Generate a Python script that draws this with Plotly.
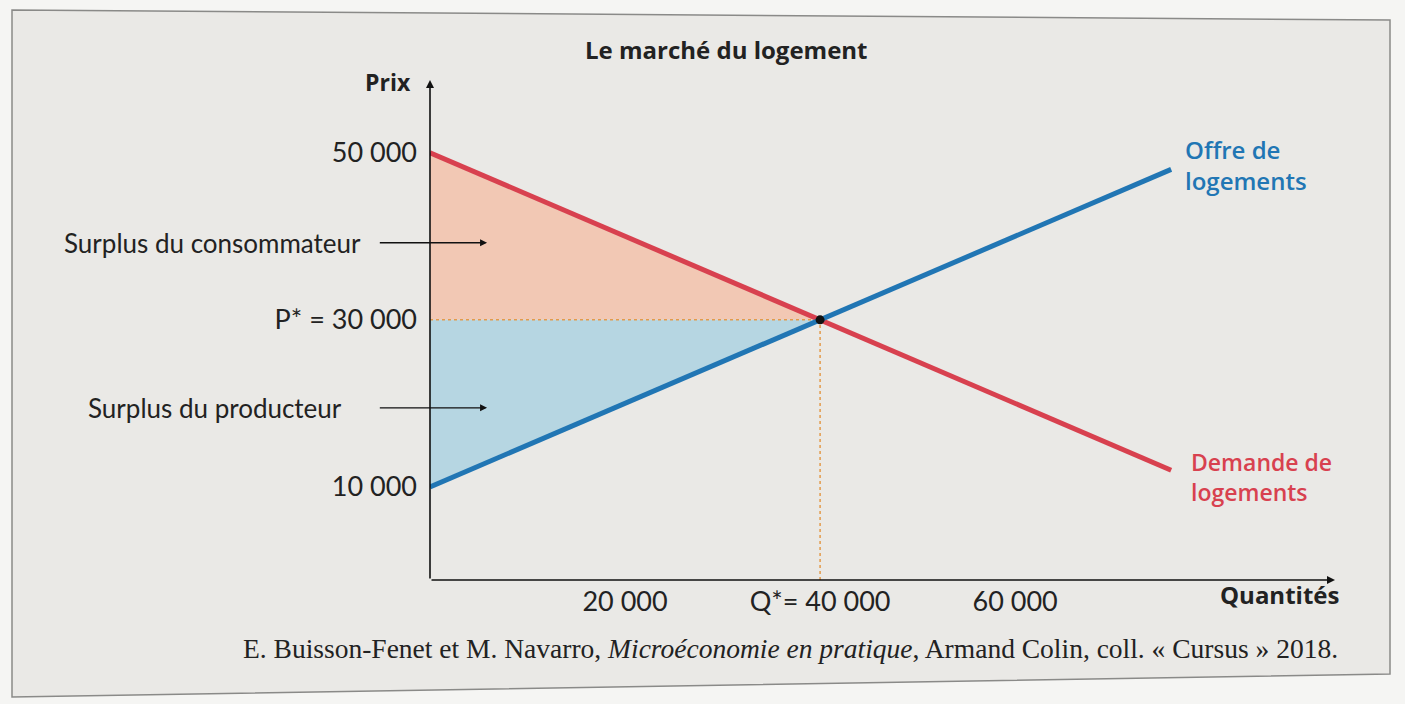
import plotly.graph_objects as go

# ---- data ----
quantities = [0, 76000]
supply = [10000, 48000]
demand = [50000, 12000]
q_star = 40000
p_star = 30000
p_max = 50000
p_min = 10000
x_tick_vals = [20000, 40000, 60000]
x_tick_text = ["20 000", "Q*= 40 000", "60 000"]
y_tick_vals = [10000, 30000, 50000]
y_tick_text = ["10 000", "P* = 30 000", "50 000"]

W, H = 1405, 704
ML, MR, MT, MB = 430, 70, 80, 124
XR = [0, 92800]
YR = [-1140, 58700]

def px(xp):
    return (xp - ML) / (W - ML - MR)

def py(yp):
    return (H - MB - yp) / (H - MT - MB)

SANS = "Lato"
BOLD = "Open Sans"
BLUE = "#2176b4"
RED = "#d8414f"

fig = go.Figure()

# consumer surplus
fig.add_trace(go.Scatter(x=[0, q_star, 0, 0], y=[p_max, p_star, p_star, p_max],
                         fill="toself", fillcolor="#f2c8b4", line=dict(width=0),
                         mode="lines", hoverinfo="skip", showlegend=False))
# producer surplus
fig.add_trace(go.Scatter(x=[0, q_star, 0, 0], y=[p_star, p_star, p_min, p_star],
                         fill="toself", fillcolor="#b6d6e2", line=dict(width=0),
                         mode="lines", hoverinfo="skip", showlegend=False))
# dotted guides
fig.add_trace(go.Scatter(x=[0, q_star], y=[p_star, p_star], mode="lines",
                         line=dict(color="#e39a4a", width=1.5, dash="dot"),
                         hoverinfo="skip", showlegend=False))
fig.add_trace(go.Scatter(x=[q_star, q_star], y=[YR[0], p_star], mode="lines",
                         line=dict(color="#e39a4a", width=1.5, dash="dot"),
                         hoverinfo="skip", showlegend=False))
# curves
fig.add_trace(go.Scatter(x=quantities, y=demand, mode="lines",
                         line=dict(color=RED, width=5), name="Demande de logements",
                         showlegend=False))
fig.add_trace(go.Scatter(x=quantities, y=supply, mode="lines",
                         line=dict(color=BLUE, width=5), name="Offre de logements",
                         showlegend=False))
fig.add_trace(go.Scatter(x=[q_star], y=[p_star], mode="markers",
                         marker=dict(color="#111", size=9), showlegend=False))

ann = []
# axes with arrows
ann.append(dict(x=XR[1], y=YR[0], ax=0, ay=YR[0], xref="x", yref="y", axref="x", ayref="y",
                text="", showarrow=True, arrowhead=2, arrowsize=1, arrowwidth=1.6,
                arrowcolor="#111"))
ann.append(dict(x=0, y=YR[1], ax=0, ay=YR[0], xref="x", yref="y", axref="x", ayref="y",
                text="", showarrow=True, arrowhead=2, arrowsize=1, arrowwidth=1.6,
                arrowcolor="#111"))
# surplus label arrows
for yv in [39220, 19460]:
    ann.append(dict(x=5850, y=yv, ax=-5300, ay=yv, xref="x", yref="y", axref="x", ayref="y",
                    text="", showarrow=True, arrowhead=2, arrowsize=1, arrowwidth=1.4,
                    arrowcolor="#111"))
ann.append(dict(x=px(363), y=py(243), xref="paper", yref="paper", text="Surplus du consommateur",
                showarrow=False, xanchor="right", yanchor="middle",
                font=dict(family=SANS, size=26, color="#222")))
ann.append(dict(x=px(344), y=py(408), xref="paper", yref="paper", text="Surplus du producteur",
                showarrow=False, xanchor="right", yanchor="middle",
                font=dict(family=SANS, size=26, color="#222")))
# axis titles
ann.append(dict(x=px(413), y=py(82), xref="paper", yref="paper", text="Prix",
                showarrow=False, xanchor="right", yanchor="middle",
                font=dict(family=BOLD, size=23, color="#222", weight=700)))
ann.append(dict(x=px(1341), y=py(594), xref="paper", yref="paper", text="Quantités",
                showarrow=False, xanchor="right", yanchor="middle",
                font=dict(family=BOLD, size=24, color="#222", weight=700)))
# curve labels
ann.append(dict(x=px(1183), y=py(165), xref="paper", yref="paper",
                text="Offre de<br>logements", showarrow=False, xanchor="left",
                yanchor="middle", align="left",
                font=dict(family=BOLD, size=24, color=BLUE, weight=600)))
ann.append(dict(x=px(1189), y=py(477), xref="paper", yref="paper",
                text="Demande de<br>logements", showarrow=False, xanchor="left",
                yanchor="middle", align="left",
                font=dict(family=BOLD, size=23, color=RED, weight=600)))
# title
ann.append(dict(x=px(726), y=py(50), xref="paper", yref="paper",
                text="Le marché du logement", showarrow=False, xanchor="center",
                yanchor="middle",
                font=dict(family=BOLD, size=24, color="#222", weight=700)))
# source
ann.append(dict(x=px(790), y=py(648), xref="paper", yref="paper",
                text="E. Buisson-Fenet et M. Navarro, <i>Microéconomie en pratique</i>, Armand Colin, coll. « Cursus » 2018.",
                showarrow=False, xanchor="center", yanchor="middle",
                font=dict(family="Liberation Serif", size=27.5, color="#222")))

shapes = [
    dict(type="path", xref="paper", yref="paper", layer="below",
         path=f"M {px(12)},{py(10)} L {px(1390)},{py(20)} L {px(1390)},{py(674)} L {px(12)},{py(697)} Z",
         fillcolor="#eae9e6", line=dict(color="#8a8a88", width=1.5)),
]

fig.update_layout(
    width=W, height=H,
    margin=dict(l=ML, r=MR, t=MT, b=MB),
    paper_bgcolor="#f5f5f3", plot_bgcolor="rgba(0,0,0,0)",
    annotations=ann, shapes=shapes, showlegend=False,
)
fig.update_xaxes(range=XR, showgrid=False, zeroline=False, showline=False,
                 tickvals=x_tick_vals, ticktext=x_tick_text, ticks="",
                 tickfont=dict(family=SANS, size=27, color="#222"),
                 ticklabelstandoff=3, fixedrange=True)
fig.update_yaxes(range=YR, showgrid=False, zeroline=False, showline=False,
                 tickvals=y_tick_vals, ticktext=y_tick_text, ticks="",
                 tickfont=dict(family=SANS, size=27, color="#222"),
                 ticklabelstandoff=12, fixedrange=True)

fig.write_html("out.html", config={"displayModeBar": False},
               post_script="document.body.style.margin='0';")
